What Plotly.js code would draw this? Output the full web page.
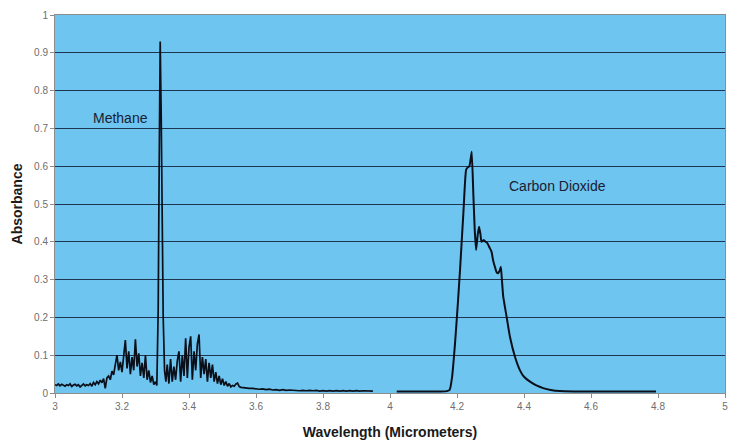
<!DOCTYPE html>
<html>
<head>
<meta charset="utf-8">
<script src="https://cdn.plot.ly/plotly-3.0.1.min.js"></script>
<style>html,body{margin:0;padding:0;background:#fff;}#chart{width:729px;height:443px;}</style>
</head>
<body>
<div id="chart"></div>
<script>
// Methane absorbance spectrum (wavelength in micrometers)
const methaneWavelength = [
  3.000,3.005,3.010,3.015,3.020,3.025,3.030,3.035,3.040,3.045,3.050,3.055,3.060,3.065,3.070,3.075,3.080,3.085,3.090,3.095,3.100,
  3.105,3.110,3.115,3.120,3.125,3.130,3.135,3.140,3.145,3.150,
  3.155,3.160,3.165,3.170,3.175,3.180,3.185,3.190,3.195,3.200,3.205,3.210,3.215,3.220,3.225,3.230,3.235,3.240,3.245,3.250,
  3.255,3.260,3.265,3.270,3.275,3.280,3.285,3.290,3.295,3.300,3.304,3.308,3.311,3.314,3.317,3.320,3.323,3.327,3.331,
  3.335,3.340,3.345,3.350,3.355,3.360,3.365,3.370,3.375,3.380,3.385,3.390,3.395,3.400,3.405,3.410,3.415,3.420,3.425,3.430,
  3.435,3.440,3.445,3.450,3.455,3.460,3.465,3.470,3.475,3.480,3.485,3.490,3.495,3.500,3.505,3.510,3.515,3.520,3.525,3.530,
  3.535,3.540,3.545,3.550,3.555,3.560,3.570,3.580,3.590,3.600,3.610,3.620,3.630,3.640,3.650,3.660,3.670,3.680,3.690,3.700,
  3.710,3.720,3.730,3.740,3.750,3.760,3.770,3.780,3.790,3.800,3.810,3.820,3.830,3.840,3.850,3.860,3.870,3.880,3.890,3.900,
  3.910,3.920,3.930,3.940,3.949
];
const methaneAbsorbance = [
  0.022,0.020,0.024,0.019,0.023,0.021,0.018,0.022,0.020,0.024,0.017,0.021,0.023,0.019,0.022,0.016,0.021,0.024,0.019,0.022,0.020,
  0.025,0.018,0.028,0.022,0.030,0.024,0.034,0.027,0.038,0.012,
  0.040,0.045,0.035,0.058,0.048,0.075,0.100,0.060,0.082,0.055,0.090,0.140,0.065,0.110,0.050,0.095,0.060,0.142,0.070,0.105,
  0.045,0.080,0.040,0.100,0.035,0.060,0.028,0.045,0.022,0.030,0.020,0.220,0.600,0.930,0.735,0.500,0.200,0.060,0.030,
  0.075,0.025,0.090,0.030,0.070,0.035,0.085,0.110,0.030,0.100,0.045,0.145,0.040,0.120,0.150,0.035,0.110,0.060,0.130,0.155,
  0.040,0.095,0.050,0.090,0.030,0.080,0.040,0.075,0.030,0.055,0.025,0.045,0.022,0.038,0.020,0.030,0.018,0.025,0.016,0.020,
  0.018,0.024,0.026,0.017,0.015,0.014,0.013,0.012,0.012,0.011,0.010,0.011,0.009,0.010,0.008,0.009,0.007,0.009,0.007,0.008,
  0.007,0.008,0.006,0.007,0.006,0.007,0.006,0.007,0.005,0.006,0.005,0.006,0.005,0.006,0.005,0.006,0.005,0.006,0.005,0.006,
  0.005,0.006,0.005,0.005,0.005
];
// Carbon dioxide absorbance spectrum
const co2Wavelength = [
  4.020,4.050,4.100,4.150,4.170,4.178,4.185,4.194,4.202,4.209,4.219,4.227,4.232,4.237,4.241,4.244,4.249,4.253,4.257,4.262,
  4.266,4.270,4.273,4.280,4.285,4.290,4.297,4.303,4.308,4.313,4.318,4.323,4.328,4.331,4.334,4.338,4.348,4.358,4.373,4.388,
  4.400,4.418,4.437,4.457,4.480,4.507,4.550,4.600,4.700,4.794
];
const co2Absorbance = [
  0.004,0.004,0.004,0.004,0.005,0.008,0.040,0.130,0.230,0.325,0.476,0.590,0.597,0.600,0.620,0.638,0.520,0.430,0.378,0.420,
  0.440,0.420,0.400,0.405,0.400,0.397,0.385,0.374,0.350,0.334,0.320,0.317,0.325,0.334,0.300,0.255,0.202,0.149,0.096,0.060,
  0.043,0.030,0.020,0.013,0.008,0.005,0.004,0.004,0.004,0.004
];
const xTickValues = [3,3.2,3.4,3.6,3.8,4,4.2,4.4,4.6,4.8,5];
const xTickLabels = ["3","3.2","3.4","3.6","3.8","4","4.2","4.4","4.6","4.8","5"];
const yTickValues = [0,0.1,0.2,0.3,0.4,0.5,0.6,0.7,0.8,0.9,1];
const yTickLabels = ["0","0.1","0.2","0.3","0.4","0.5","0.6","0.7","0.8","0.9","1"];
const labels = [
  {text:"Methane", x:3.195, y:0.727},
  {text:"Carbon Dioxide", x:4.50, y:0.548}
];

const FONT = "Liberation Sans, Arial, sans-serif";
const traces = [
  {x:methaneWavelength, y:methaneAbsorbance, type:"scatter", mode:"lines",
   line:{color:"#0b0f1a", width:1.7}, hoverinfo:"x+y", name:"Methane"},
  {x:co2Wavelength, y:co2Absorbance, type:"scatter", mode:"lines",
   line:{color:"#0b0f1a", width:2, shape:"spline", smoothing:0.4}, hoverinfo:"x+y", name:"Carbon Dioxide"}
];
const layout = {
  width:729, height:443,
  margin:{l:55, r:4, t:15, b:50},
  paper_bgcolor:"#ffffff",
  plot_bgcolor:"#6ec5ef",
  showlegend:false,
  font:{family:FONT, color:"#1a1a1a"},
  xaxis:{
    range:[3,5], tickvals:xTickValues, ticktext:xTickLabels,
    showgrid:false, zeroline:false,
    showline:true, linecolor:"#8c8c8c", linewidth:1, mirror:true,
    ticks:"outside", ticklen:4, tickcolor:"#8c8c8c",
    tickfont:{size:10, color:"#6e6e6e", family:FONT},
    title:{text:"Wavelength (Micrometers)", font:{size:14, family:FONT, weight:"bold", color:"#1a1a1a"}, standoff:16}
  },
  yaxis:{
    range:[0,1], tickvals:yTickValues, ticktext:yTickLabels,
    showgrid:true, gridcolor:"#1d3550", gridwidth:1, zeroline:false,
    showline:true, linecolor:"#8c8c8c", linewidth:1, mirror:true,
    ticks:"outside", ticklen:4, tickcolor:"#8c8c8c",
    tickfont:{size:10, color:"#6e6e6e", family:FONT},
    title:{text:"Absorbance", font:{size:14, family:FONT, weight:"bold", color:"#1a1a1a"}, standoff:8}
  },
  annotations: labels.map(l => ({
    text:l.text, x:l.x, y:l.y, xref:"x", yref:"y", showarrow:false,
    font:{size:14, family:FONT, color:"#1a2033"}
  }))
};
Plotly.newPlot("chart", traces, layout, {displayModeBar:false, staticPlot:true});
</script>
</body>
</html>
